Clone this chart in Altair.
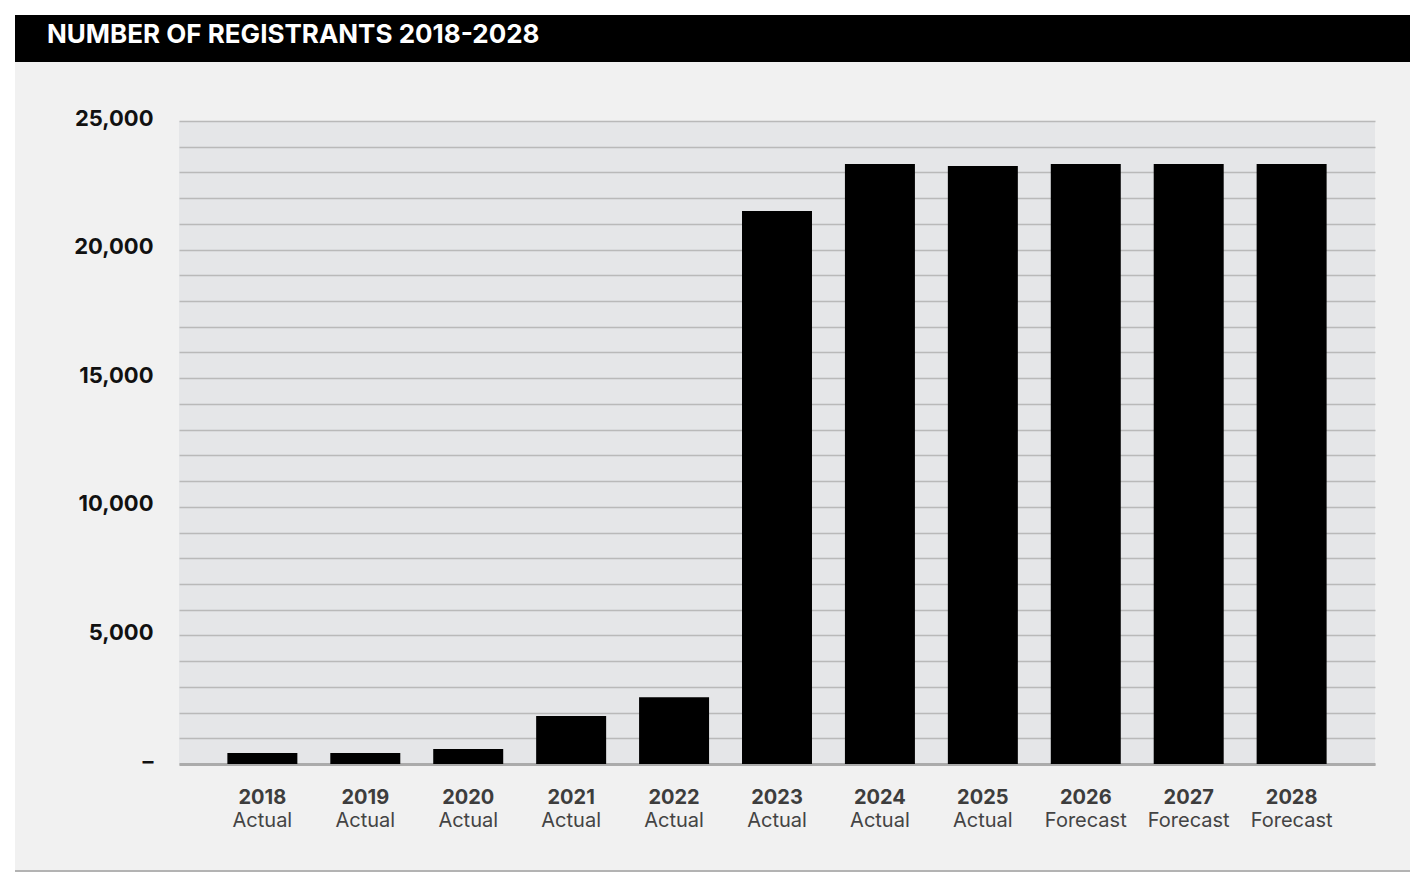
import altair as alt
import pandas as pd

title_text = "NUMBER OF REGISTRANTS 2018-2028"
years = ["2018", "2019", "2020", "2021", "2022", "2023", "2024", "2025", "2026", "2027", "2028"]
status = ["Actual", "Actual", "Actual", "Actual", "Actual", "Actual", "Actual", "Actual",
          "Forecast", "Forecast", "Forecast"]
registrants = [430, 430, 580, 1870, 2600, 21500, 23330, 23250, 23330, 23330, 23330]
y_ticks = list(range(0, 25001, 1000))

df = pd.DataFrame({"year": years, "status": status, "value": registrants})
deco = pd.DataFrame({"k": [0]})

W, H = 1196, 643
FONT = "Inter"

x_enc = alt.X("year:N", sort=years,
              scale=alt.Scale(paddingInner=0.32, paddingOuter=0.47),
              axis=alt.Axis(title=None, labelAngle=0, labelFont=FONT, labelFontSize=20,
                            labelFontWeight="bold", labelColor="#3d3d3d", labelPadding=23,
                            ticks=False, grid=False, domainColor="#ababab", domainWidth=3))

y_enc = alt.Y("value:Q",
              scale=alt.Scale(domain=[0, 25000], nice=False),
              axis=alt.Axis(title=None, values=y_ticks, ticks=False, domain=False,
                            labelExpr="datum.value == 0 ? '–' : (datum.value % 5000 == 0 ? format(datum.value, ',') : '')",
                            labelFont=FONT, labelFontSize=22, labelFontWeight="bold",
                            labelColor="#111111", labelPadding=26, labelOffset=-3,
                            gridColor="#b9b9b9", gridWidth=1.5))

def rect(x1, x2, y1, y2, color):
    return alt.Chart(deco).mark_rect(color=color).encode(
        x=alt.value(x1), x2=alt.value(x2), y=alt.value(y1), y2=alt.value(y2))

white_left = rect(-171, -164, -113, 760, "white")
white_top = rect(-171, 1240, -113, -106, "white")
black_bar = rect(-164, 1240, -106, -59, "black")
bottom_line = rect(-164, 1240, 749, 751, "#b3b3b3")
white_bottom = rect(-171, 1240, 751, 760, "white")

bars = alt.Chart(df).mark_bar(color="black").encode(x=x_enc, y=y_enc)

status_labels = alt.Chart(df).mark_text(font=FONT, fontSize=20, color="#444444",
                                        baseline="middle").encode(
    x=alt.X("year:N", sort=years), y=alt.value(700), text="status:N")

title = alt.Chart(deco).mark_text(font=FONT, fontSize=26, fontWeight="bold", color="white",
                                  align="left", baseline="middle").encode(
    x=alt.value(-132), y=alt.value(-86), text=alt.value(title_text))

chart = alt.layer(white_left, white_top, black_bar, bottom_line, white_bottom,
                  bars, status_labels, title).properties(
    width=W, height=H,
    autosize=alt.AutoSizeParams(type="none"),
    padding={"left": 171, "top": 113, "right": 35, "bottom": 110},
    background="#f1f1f1",
).configure_view(fill="#e5e6e8", stroke=None)

chart.save("out.html", embed_options={"renderer": "svg", "actions": False})
